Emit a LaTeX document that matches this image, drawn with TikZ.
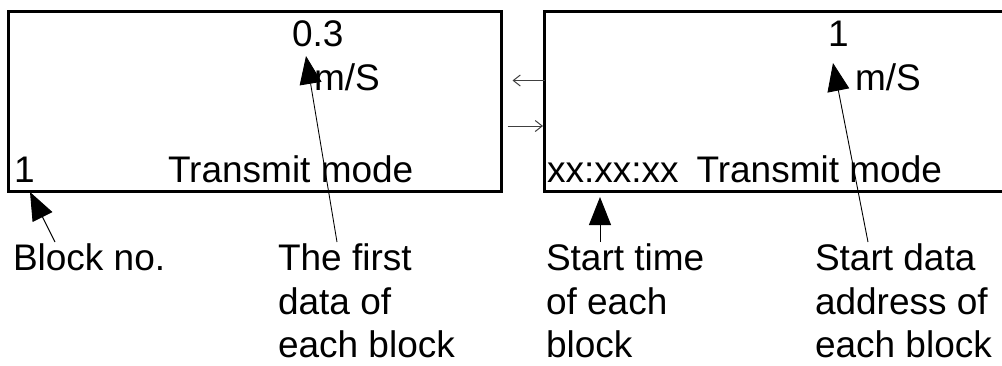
\documentclass[tikz,border=0pt]{standalone}
\usepackage{fontspec}
\setmainfont{Liberation Sans}
\usetikzlibrary{arrows.meta}
\begin{document}
\begin{tikzpicture}[x=1pt,y=-1pt,
  every node/.style={font=\fontsize{37}{43.5}\selectfont, inner sep=0pt, outer sep=0pt},
  frame/.style={draw, line width=3pt, rectangle, anchor=north west, minimum height=180pt},
  txt/.style={anchor=base west},
  lbl/.style={anchor=north west, align=left},
  pointer/.style={line width=0.9pt, -{Triangle[length=28pt,width=22pt]}},
  link/.style={draw=black!75, line width=1pt, -{Straight Barb[length=7pt,width=11pt]}}]
\useasboundingbox (0,0) rectangle (1002,365);
% boxes
\node[frame, minimum width=493pt] (L) at (8.5,11) {};
\node[frame, minimum width=462pt] (R) at (544.5,11) {};
% texts in left box
\node[txt] (v1) at (292,46) {0.3};
\node[txt] (u1) at (314,90) {m/S};
\node[txt] (n1) at (14,182) {1};
\node[txt] (m1) at (168,182) {Transmit mode};
% texts in right box
\node[txt] (v2) at (828,46) {1};
\node[txt] (u2) at (855,90) {m/S};
\node[txt] (m2) at (547,182) {xx:xx:xx\hspace{18pt}Transmit mode};
% labels
\node[lbl] (bn) at (13,244) {Block no.};
\node[lbl] (fd) at (278,244) {The first\\data of\\each block};
\node[lbl] (st) at (546,244) {Start time\\of each\\block};
\node[lbl] (sa) at (815,244) {Start data\\address of\\each block};
% pointer tips
\coordinate (t1) at (306,56);
\coordinate (t2) at (30,192);
\coordinate (t3) at (600,197);
\coordinate (t4) at (833,63);
\draw[pointer] ([xshift=42pt,yshift=2pt]bn.north west) -- (t2);
\draw[pointer] ([xshift=59pt,yshift=2pt]fd.north west) -- (t1);
\draw[pointer] ([xshift=54pt,yshift=2pt]st.north west) -- (t3);
\draw[pointer] ([xshift=53pt,yshift=2pt]sa.north west) -- (t4);
% links between boxes
\draw[link] ([yshift=20.5pt]R.west) -- ([yshift=20.5pt,xshift=11pt]L.east);
\draw[link] ([yshift=-25pt,xshift=6pt]L.east) -- ([yshift=-25pt,xshift=-1.5pt]R.west);
\end{tikzpicture}
\end{document}
